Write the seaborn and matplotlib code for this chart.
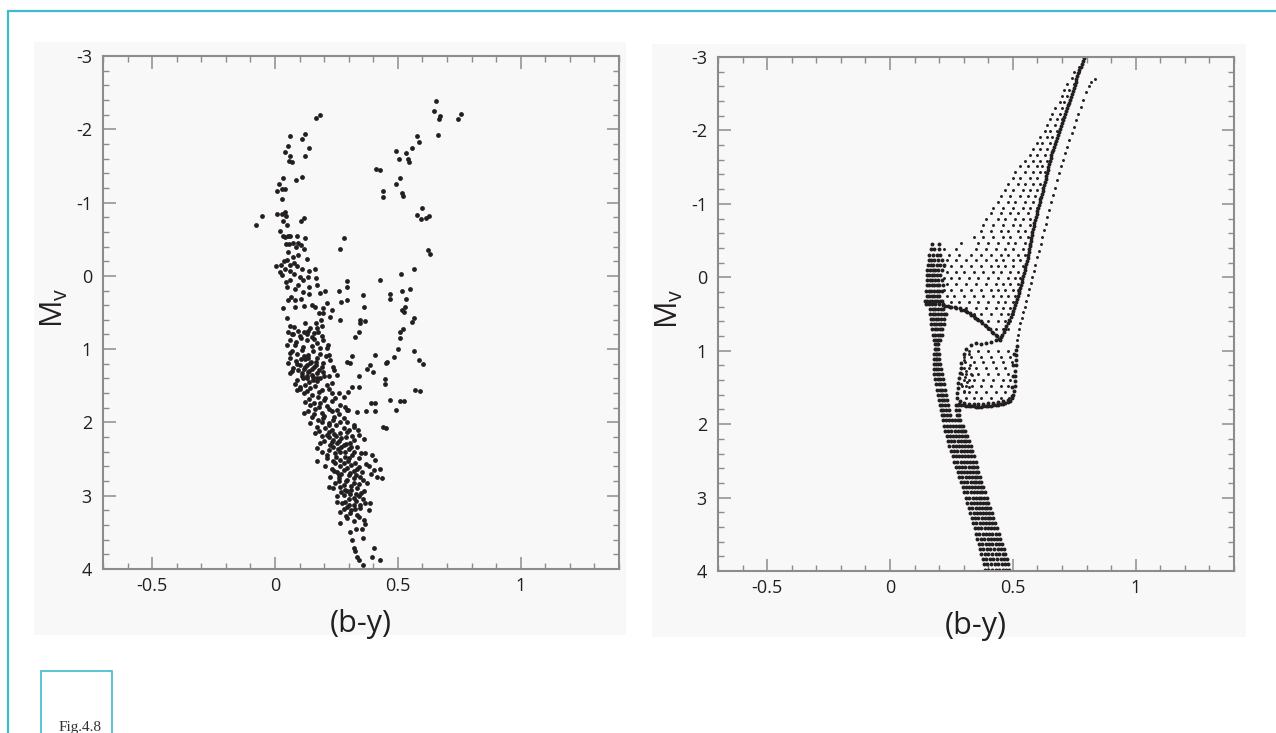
import matplotlib
matplotlib.use("Agg")
import matplotlib.pyplot as plt
import seaborn as sns
import pandas as pd
from matplotlib.patches import Rectangle
from matplotlib.lines import Line2D
from matplotlib.ticker import FixedLocator, FixedFormatter, MultipleLocator

sns.set_style("white")
plt.rcParams["font.family"] = ["Open Sans", "DejaVu Sans"]
plt.rcParams["axes.unicode_minus"] = False

# ---------------- axis ticks ----------------
x_ticks = [-0.5, 0, 0.5, 1]
x_tick_labels = ["-0.5", "0", "0.5", "1"]
y_ticks = [-3, -2, -1, 0, 1, 2, 3, 4]
y_tick_labels = ["-3", "-2", "-1", "0", "1", "2", "3", "4"]
x_label = "(b-y)"
y_label = r"M$_{\mathregular{v}}$"
fig_caption = "Fig.4.8"

# ---------------- left panel: observed stars (b-y, Mv) ----------------
left_giants = [
    (0.656,-2.39),(0.649,-2.25),(0.673,-2.18),(0.668,-2.14),(0.758,-2.21),(0.743,-2.14),(0.665,-1.92),
    (0.578,-1.91),(0.588,-1.82),(0.558,-1.74),(0.535,-1.68),(0.491,-1.70),(0.506,-1.60),(0.541,-1.59),
    (0.544,-1.55),(0.410,-1.46),(0.426,-1.44),(0.510,-1.34),(0.491,-1.26),(0.439,-1.16),(0.441,-1.07),
    (0.516,-1.13),(0.522,-1.09),(0.600,-0.92),(0.578,-0.83),(0.593,-0.77),(0.614,-0.79),(0.627,-0.81),
    (0.624,-0.35),(0.630,-0.30),(0.567,-0.10),(0.514,-0.03),(0.427,0.05),(0.550,0.18),(0.517,0.21),
    (0.467,0.25),(0.467,0.32),(0.533,0.32),(0.524,0.49),(0.517,0.47),(0.531,0.42),(0.565,0.57),
    (0.556,0.63),(0.521,0.72),(0.507,0.76),(0.510,0.85),(0.499,1.00),(0.565,1.02),(0.588,1.15),
    (0.604,1.20),(0.486,1.11),(0.456,1.17),(0.450,1.19),(0.407,1.08),(0.388,1.22),(0.374,1.27),
    (0.399,1.31),(0.340,1.37),(0.306,1.19),(0.293,1.17),(0.312,1.10),(0.446,1.41),(0.448,1.47),
    (0.468,1.69),(0.507,1.71),(0.524,1.71),(0.491,1.83),(0.571,1.56),(0.592,1.57),(0.390,1.74),
    (0.407,1.74),(0.407,1.84),(0.369,1.85),(0.333,1.86),(0.327,0.83),(0.341,0.76),(0.438,2.06),
    (0.450,2.08),(0.340,1.51),(0.313,1.51),(0.299,1.58),(0.279,1.65),(0.286,1.79),(0.299,1.83),
    (0.322,2.03),(0.337,2.10),
]
left_upper = [
    (0.165,-2.15),(0.184,-2.20),(0.061,-1.91),(0.110,-1.87),(0.122,-1.94),(0.054,-1.77),(0.139,-1.75),
    (0.041,-1.69),(0.063,-1.64),(0.124,-1.64),(0.057,-1.57),(0.071,-1.56),(0.034,-1.33),(0.086,-1.31),
    (0.109,-1.35),(0.015,-1.25),(0.030,-1.19),(0.007,-1.16),(0.039,-1.19),(0.027,-1.05),(0.010,-0.85),
    (0.027,-0.84),(0.042,-0.87),(0.044,-0.81),(0.031,-0.75),(0.107,-0.75),(0.116,-0.79),(-0.052,-0.81),
    (-0.076,-0.69),(0.049,-0.69),(0.020,-0.61),(0.031,-0.55),(0.042,-0.53),(0.052,-0.55),(0.063,-0.54),
    (0.088,-0.55),(0.124,-0.52),(0.044,-0.44),(0.056,-0.44),(0.075,-0.45),(0.095,-0.45),(0.106,-0.42),
    (0.086,-0.40),(0.116,-0.36),(0.054,-0.33),(0.095,-0.29),(0.075,-0.26),(0.131,-0.23),(0.048,-0.22),
    (0.035,-0.20),(0.026,-0.15),(0.004,-0.14),(0.061,-0.15),(0.079,-0.17),(0.090,-0.14),(0.042,-0.10),
    (0.109,-0.09),(0.063,-0.06),(0.020,-0.05),(0.030,-0.01),(0.078,-0.03),(0.102,0.01),(0.140,-0.06),
    (0.163,-0.10),(0.136,0.01),(0.165,0.03),(0.045,0.08),(0.063,0.06),(0.113,0.06),(0.095,0.12),
    (0.048,0.15),(0.170,0.12),(0.139,0.15),(0.083,0.18),(0.114,0.22),(0.137,0.25),(0.064,0.29),
    (0.082,0.33),(0.105,0.32),(0.053,0.33),(0.184,0.24),(0.204,0.21),(0.034,0.44),(0.083,0.43),
    (0.116,0.41),(0.151,0.40),(0.163,0.42),(0.195,0.44),(0.211,0.37),(0.233,0.46),(0.178,0.51),
    (0.197,0.51),(0.222,0.56),(0.186,0.60),(0.167,0.65),(0.048,0.57),(0.061,0.68),(0.078,0.70),
    (0.122,0.65),(0.143,0.71),(0.170,0.71),(0.190,0.69),(0.265,0.60),(0.295,0.07),(0.295,0.15),
    (0.279,-0.51),(0.265,-0.37),(0.259,0.21),(0.268,0.35),(0.295,0.33),(0.358,0.26),(0.361,0.42),
    (0.344,0.60),(0.367,0.61),(0.347,0.64),
]
left_sequence = [
    (0.054,0.76),(0.075,0.79),(0.095,0.75),(0.116,0.77),(0.136,0.75),(0.159,0.78),(0.177,0.76),
    (0.061,0.87),(0.086,0.90),(0.105,0.85),(0.129,0.87),(0.150,0.84),(0.170,0.92),(0.195,0.87),
    (0.214,0.94),(0.048,0.94),(0.113,0.97),(0.184,0.99),(0.068,1.02),(0.091,1.06),(0.109,1.01),
    (0.136,1.08),(0.156,1.03),(0.184,1.06),(0.208,1.10),(0.061,1.12),(0.086,1.16),(0.122,1.14),
    (0.143,1.19),(0.167,1.17),(0.197,1.19),(0.224,1.15),(0.102,1.22),(0.054,1.19),(0.075,1.26),
    (0.095,1.28),(0.122,1.25),(0.136,1.31),(0.150,1.27),(0.170,1.33),(0.197,1.31),(0.218,1.37),
    (0.238,1.24),(0.061,1.33),(0.109,1.37),(0.129,1.40),(0.156,1.42),(0.184,1.40),(0.252,1.35),
    (0.082,1.47),(0.102,1.51),(0.122,1.49),(0.143,1.53),(0.163,1.50),(0.190,1.56),(0.211,1.49),
    (0.231,1.60),(0.116,1.60),(0.150,1.62),(0.177,1.65),(0.204,1.67),(0.245,1.67),(0.088,1.56),
    (0.122,1.72),(0.143,1.76),(0.163,1.81),(0.184,1.74),(0.211,1.78),(0.231,1.85),(0.252,1.83),
    (0.136,1.85),(0.190,1.87),(0.116,1.87),(0.265,1.76),(0.293,1.83),(0.150,1.92),(0.177,1.97),
    (0.197,1.94),(0.218,2.01),(0.238,1.97),(0.265,1.99),(0.170,2.06),(0.204,2.08),(0.231,2.10),
    (0.143,2.01),(0.293,1.99),(0.320,2.06),(0.163,2.15),(0.190,2.19),(0.211,2.17),(0.238,2.24),
    (0.265,2.15),(0.293,2.13),(0.313,2.19),(0.340,2.17),(0.361,2.22),(0.184,2.28),(0.224,2.31),
    (0.252,2.28),(0.279,2.31),(0.306,2.28),(0.333,2.33),(0.170,2.35),(0.190,2.40),(0.218,2.38),
    (0.245,2.42),(0.265,2.40),(0.286,2.47),(0.313,2.44),(0.340,2.49),(0.367,2.42),(0.395,2.44),
    (0.211,2.49),(0.238,2.53),(0.265,2.51),(0.299,2.53),(0.327,2.56),(0.170,2.53),(0.408,2.51),
    (0.204,2.60),(0.231,2.63),(0.252,2.67),(0.279,2.65),(0.306,2.69),(0.333,2.63),(0.354,2.67),
    (0.381,2.60),(0.401,2.65),(0.429,2.64),(0.224,2.74),(0.259,2.76),(0.293,2.78),(0.320,2.76),
    (0.347,2.74),(0.415,2.74),(0.435,2.76),(0.245,2.83),(0.218,2.88),(0.238,2.90),(0.265,2.88),
    (0.286,2.92),(0.306,2.97),(0.333,2.90),(0.361,2.94),(0.374,2.83),(0.252,3.01),(0.279,2.99),
    (0.320,3.03),(0.340,3.01),(0.252,3.08),(0.272,3.10),(0.293,3.15),(0.320,3.13),(0.347,3.17),
    (0.367,3.10),(0.388,3.10),(0.265,3.22),(0.306,3.24),(0.333,3.26),(0.361,3.33),(0.381,3.19),
    (0.367,3.38),(0.263,3.37),(0.293,3.31),(0.306,3.49),(0.331,3.46),(0.354,3.46),(0.313,3.60),
    (0.358,3.58),(0.320,3.72),(0.327,3.76),(0.333,3.83),(0.340,3.88),(0.401,3.72),(0.395,3.83),
    (0.429,3.88),(0.358,3.94),
    (0.07,0.80),(0.10,0.82),(0.13,0.80),(0.16,0.86),(0.19,0.82),(0.08,0.95),(0.15,0.96),(0.21,0.99),
    (0.06,1.05),(0.12,1.09),(0.17,1.12),(0.22,1.08),(0.09,1.20),(0.13,1.22),(0.19,1.24),(0.24,1.28),
    (0.07,1.30),(0.11,1.32),(0.15,1.35),(0.20,1.36),(0.09,1.42),(0.14,1.45),(0.17,1.44),(0.23,1.46),
    (0.10,1.55),(0.13,1.57),(0.18,1.58),(0.22,1.54),(0.26,1.60),(0.14,1.68),(0.20,1.69),(0.23,1.71),
    (0.16,1.73),(0.18,1.79),(0.22,1.82),(0.26,1.88),(0.16,1.88),(0.20,1.91),(0.24,1.93),(0.28,1.94),
    (0.19,2.00),(0.22,2.04),(0.25,2.03),(0.28,2.07),(0.30,2.10),(0.18,2.12),(0.22,2.13),(0.25,2.18),
    (0.27,2.21),(0.32,2.24),(0.20,2.25),(0.23,2.27),(0.27,2.34),(0.30,2.36),(0.32,2.40),(0.35,2.42),
    (0.21,2.45),(0.25,2.47),(0.28,2.55),(0.31,2.58),(0.34,2.61),(0.37,2.57),(0.24,2.66),(0.27,2.70),
    (0.30,2.72),(0.33,2.72),(0.36,2.79),(0.39,2.70),(0.26,2.80),(0.28,2.85),(0.31,2.87),(0.34,2.84),
    (0.35,2.96),(0.27,2.95),(0.30,3.04),(0.33,3.07),(0.36,3.05),(0.28,3.18),(0.31,3.20),(0.34,3.29),
    (0.32,3.35),(0.29,3.28),
    (0.12,1.27),(0.14,1.30),(0.16,1.25),(0.18,1.29),(0.13,1.36),(0.155,1.38),(0.115,1.40),(0.17,1.39),
    (0.145,1.18),(0.165,1.21),(0.105,1.13),(0.135,1.12),(0.22,2.20),(0.24,2.16),(0.26,2.25),(0.29,2.20),
    (0.235,2.34),(0.255,2.36),(0.285,2.40),(0.31,2.33),(0.245,2.56),(0.265,2.60),(0.295,2.62),(0.32,2.66),
    (0.29,2.80),(0.31,2.92),(0.32,2.82),(0.33,2.98),(0.295,2.94),(0.30,3.13),(0.325,3.18),(0.285,3.08),
    (0.345,3.12),(0.29,2.30),(0.30,2.48),(0.26,2.72),
]

# ---------------- right panel: synthetic population (rows: Mv, list of b-y) ----------------
ms_rows = [
    (3.98,[0.388,0.40,0.415,0.43,0.445,0.46,0.474,0.486]),
    (3.91,[0.383,0.396,0.41,0.426,0.44,0.455,0.469,0.481]),
    (3.84,[0.378,0.391,0.405,0.42,0.436,0.45,0.464,0.476]),
    (3.77,[0.372,0.385,0.40,0.414,0.43,0.444,0.458,0.47]),
    (3.70,[0.366,0.38,0.394,0.409,0.424,0.438,0.451,0.463]),
    (3.63,[0.361,0.374,0.389,0.403,0.417,0.431,0.444,0.456]),
    (3.56,[0.355,0.369,0.383,0.397,0.41,0.424,0.437,0.449]),
    (3.49,[0.35,0.363,0.377,0.39,0.404,0.417,0.43,0.442]),
    (3.42,[0.344,0.357,0.371,0.385,0.398,0.41,0.423,0.435]),
    (3.35,[0.338,0.351,0.365,0.379,0.392,0.404,0.416,0.428]),
    (3.28,[0.333,0.346,0.36,0.373,0.386,0.398,0.409,0.421]),
    (3.21,[0.327,0.34,0.354,0.367,0.379,0.391,0.402,0.414]),
    (3.14,[0.321,0.334,0.348,0.361,0.373,0.385,0.396,0.407]),
    (3.07,[0.315,0.328,0.342,0.355,0.367,0.379,0.389,0.40]),
    (3.00,[0.309,0.322,0.336,0.349,0.361,0.372,0.383,0.393]),
    (2.93,[0.302,0.315,0.329,0.342,0.354,0.365,0.376,0.386]),
    (2.86,[0.296,0.309,0.322,0.335,0.347,0.358,0.369,0.379]),
    (2.79,[0.289,0.302,0.315,0.328,0.34,0.352,0.362,0.372]),
    (2.72,[0.282,0.295,0.308,0.321,0.333,0.345,0.356,0.366]),
    (2.65,[0.275,0.288,0.301,0.314,0.326,0.338,0.349,0.36]),
    (2.58,[0.268,0.281,0.294,0.307,0.32,0.332,0.343,0.354]),
    (2.51,[0.261,0.274,0.288,0.301,0.313,0.325,0.337,0.348]),
    (2.44,[0.255,0.268,0.281,0.294,0.307,0.319,0.331,0.341]),
    (2.37,[0.248,0.261,0.274,0.288,0.30,0.313,0.324,0.334]),
    (2.30,[0.242,0.255,0.268,0.281,0.294,0.306,0.317,0.328]),
    (2.23,[0.236,0.249,0.262,0.275,0.288,0.30,0.311,0.321]),
    (2.16,[0.23,0.243,0.256,0.269,0.282,0.294,0.304,0.314]),
    (2.09,[0.225,0.238,0.25,0.263,0.276,0.287,0.297,0.306]),
    (2.02,[0.22,0.232,0.245,0.258,0.27,0.281,0.29,0.298]),
    (1.95,[0.215,0.227,0.24,0.253,0.265,0.276,0.286]),
    (1.88,[0.21,0.221,0.233,0.245,0.271,0.282]),
    (1.81,[0.206,0.217,0.228,0.239,0.269,0.28]),
    (1.74,[0.202,0.213,0.224,0.235,0.267,0.278]),
    (1.67,[0.199,0.21,0.221,0.232]),
    (1.60,[0.195,0.206,0.217,0.228]),
    (1.53,[0.191,0.202,0.213,0.224]),
    (1.46,[0.188,0.199,0.209,0.22]),
    (1.39,[0.185,0.195,0.205,0.216]),
    (1.32,[0.181,0.191,0.201,0.211]),
    (1.25,[0.179,0.188,0.197,0.206]),
    (1.18,[0.178,0.186,0.194,0.202]),
    (1.11,[0.179,0.186,0.193,0.20]),
    (1.04,[0.18,0.186,0.192,0.198]),
    (0.97,[0.182,0.188,0.194]),
    (0.91,[0.183,0.19,0.197]),
]
turnoff_rows = [
    (0.85,[0.18,0.188,0.196,0.204]),
    (0.78,[0.176,0.185,0.194,0.203,0.211]),
    (0.71,[0.172,0.182,0.192,0.202,0.212]),
    (0.64,[0.168,0.178,0.188,0.198,0.208,0.218]),
    (0.57,[0.165,0.175,0.186,0.197,0.208,0.219]),
    (0.50,[0.163,0.174,0.185,0.196,0.207,0.218,0.226]),
    (0.43,[0.162,0.173,0.184,0.195,0.206,0.217]),
    (0.37,[0.148,0.158,0.17,0.185,0.20,0.215]),
    (0.32,[0.142,0.152,0.162,0.172,0.182,0.192,0.202,0.212]),
    (0.25,[0.15,0.16,0.17,0.18,0.19,0.20]),
    (0.18,[0.148,0.158,0.168,0.178,0.19,0.20,0.21]),
    (0.11,[0.15,0.16,0.17,0.18,0.19,0.20,0.215]),
    (0.04,[0.152,0.162,0.172,0.182,0.195,0.21]),
    (-0.03,[0.15,0.16,0.17,0.18,0.19,0.205]),
    (-0.10,[0.152,0.163,0.174,0.185,0.196,0.21]),
    (-0.17,[0.155,0.166,0.177,0.19,0.205,0.22]),
    (-0.24,[0.157,0.168,0.18,0.195,0.21]),
    (-0.31,[0.16,0.175,0.19,0.205]),
    (-0.38,[0.165,0.18,0.20]),
    (-0.45,[0.17,0.20]),
]
hook_curve = [
    (0.216,0.38),(0.225,0.395),(0.235,0.39),(0.245,0.405),(0.25,0.40),(0.265,0.41),(0.27,0.425),
    (0.285,0.42),(0.29,0.44),(0.30,0.44),(0.31,0.46),(0.315,0.47),(0.325,0.49),(0.33,0.51),(0.34,0.53),
    (0.345,0.55),(0.355,0.57),(0.36,0.58),(0.37,0.60),(0.375,0.62),(0.385,0.65),(0.39,0.67),(0.40,0.69),
    (0.405,0.71),(0.415,0.74),(0.42,0.76),(0.43,0.78),(0.435,0.80),(0.445,0.84),
]
giant_rows = [
    (0.70,[0.40,0.43,0.46,0.48]),
    (0.60,[0.37,0.40,0.44,0.47,0.49]),
    (0.50,[0.34,0.37,0.41,0.45,0.48,0.50]),
    (0.42,[0.31,0.35,0.39,0.43,0.46,0.49]),
    (0.33,[0.25,0.28,0.32,0.36,0.40,0.44,0.47,0.50]),
    (0.25,[0.23,0.26,0.30,0.34,0.38,0.42,0.45,0.48,0.51]),
    (0.17,[0.22,0.25,0.29,0.33,0.37,0.41,0.44,0.47,0.50,0.52]),
    (0.09,[0.23,0.27,0.31,0.35,0.39,0.43,0.46,0.49,0.52]),
    (0.01,[0.22,0.25,0.28,0.32,0.36,0.40,0.44,0.48,0.51,0.53]),
    (-0.07,[0.23,0.27,0.30,0.34,0.38,0.42,0.45,0.49,0.52]),
    (-0.15,[0.22,0.25,0.29,0.33,0.37,0.41,0.44,0.47,0.50,0.54]),
    (-0.23,[0.23,0.27,0.31,0.35,0.39,0.43,0.46,0.50,0.53]),
    (-0.31,[0.20,0.24,0.28,0.33,0.37,0.41,0.45,0.48,0.52,0.55]),
    (-0.39,[0.18,0.22,0.27,0.35,0.39,0.43,0.47,0.50,0.54]),
    (-0.47,[0.29,0.36,0.40,0.44,0.48,0.51,0.55]),
    (-0.55,[0.34,0.38,0.42,0.46,0.49,0.53,0.56]),
    (-0.63,[0.37,0.41,0.45,0.48,0.52,0.55]),
    (-0.71,[0.38,0.42,0.46,0.50,0.53,0.57]),
    (-0.79,[0.39,0.44,0.47,0.51,0.54,0.57]),
    (-0.87,[0.41,0.45,0.49,0.52,0.56]),
    (-0.95,[0.42,0.46,0.50,0.54,0.57,0.60]),
    (-1.03,[0.44,0.48,0.51,0.55,0.58]),
    (-1.11,[0.45,0.49,0.53,0.56,0.59]),
    (-1.19,[0.47,0.50,0.54,0.57,0.60]),
    (-1.27,[0.48,0.52,0.55,0.58,0.61]),
    (-1.35,[0.50,0.53,0.57,0.60]),
    (-1.43,[0.51,0.55,0.58,0.61,0.63]),
    (-1.51,[0.53,0.56,0.60,0.62]),
    (-1.59,[0.55,0.58,0.61,0.64]),
    (-1.67,[0.57,0.60,0.63]),
    (-1.75,[0.58,0.61,0.64]),
    (-1.83,[0.60,0.62,0.65,0.67]),
    (-1.91,[0.61,0.64,0.66]),
    (-1.99,[0.63,0.65,0.68]),
    (-2.07,[0.64,0.67]),
    (-2.15,[0.65,0.68,0.70]),
    (-2.23,[0.66,0.69]),
    (-2.31,[0.67,0.70]),
    (-2.39,[0.69,0.71]),
    (-2.47,[0.70,0.72]),
    (-2.55,[0.71,0.73]),
    (-2.63,[0.72,0.75]),
    (-2.71,[0.74]),
    (-2.79,[0.75,0.77]),
    (-2.87,[0.77]),
]
rgb_line = [
    (0.448,0.86),(0.452,0.82),(0.457,0.78),(0.462,0.74),(0.468,0.70),(0.474,0.66),(0.48,0.62),(0.486,0.58),
    (0.492,0.54),(0.497,0.50),(0.502,0.46),(0.506,0.42),(0.51,0.38),(0.514,0.34),(0.518,0.30),(0.521,0.26),
    (0.524,0.22),(0.527,0.18),(0.53,0.14),(0.533,0.10),(0.536,0.06),(0.539,0.02),(0.542,-0.02),(0.545,-0.06),
    (0.548,-0.10),(0.551,-0.14),(0.554,-0.18),(0.557,-0.22),(0.56,-0.26),(0.563,-0.30),(0.565,-0.34),
    (0.567,-0.38),(0.569,-0.42),(0.571,-0.46),(0.573,-0.50),(0.575,-0.54),(0.577,-0.58),(0.579,-0.62),
    (0.582,-0.66),(0.585,-0.70),(0.588,-0.74),(0.591,-0.78),(0.594,-0.82),(0.597,-0.86),(0.60,-0.90),
    (0.603,-0.94),(0.606,-0.98),(0.609,-1.02),(0.612,-1.06),(0.615,-1.10),(0.618,-1.14),(0.621,-1.18),
    (0.624,-1.22),(0.627,-1.26),(0.63,-1.30),(0.633,-1.34),(0.636,-1.38),(0.639,-1.42),(0.642,-1.46),
    (0.645,-1.50),(0.648,-1.54),(0.651,-1.58),(0.654,-1.62),(0.657,-1.66),(0.66,-1.70),(0.663,-1.74),
    (0.667,-1.78),(0.671,-1.82),(0.675,-1.86),(0.679,-1.90),(0.683,-1.94),(0.687,-1.98),(0.691,-2.02),
    (0.695,-2.06),(0.699,-2.10),(0.703,-2.14),(0.707,-2.18),(0.711,-2.22),(0.715,-2.26),(0.719,-2.30),
    (0.723,-2.34),(0.727,-2.38),(0.731,-2.42),(0.735,-2.46),(0.739,-2.50),(0.743,-2.54),(0.747,-2.58),
    (0.751,-2.62),(0.755,-2.66),(0.759,-2.70),(0.763,-2.74),(0.767,-2.78),(0.771,-2.82),(0.776,-2.86),
    (0.781,-2.90),(0.786,-2.94),(0.791,-2.98),
]
agb_line = [
    (0.517,0.86),(0.52,0.78),(0.525,0.70),(0.53,0.62),(0.536,0.55),(0.542,0.47),(0.548,0.40),(0.555,0.32),
    (0.56,0.24),(0.566,0.16),(0.572,0.08),(0.578,0.0),(0.585,-0.08),(0.592,-0.17),(0.60,-0.27),(0.607,-0.36),
    (0.614,-0.45),(0.62,-0.55),(0.627,-0.64),(0.633,-0.73),(0.64,-0.82),(0.648,-0.92),(0.656,-1.02),
    (0.665,-1.12),(0.673,-1.22),(0.681,-1.32),(0.689,-1.42),(0.697,-1.51),(0.705,-1.60),(0.714,-1.69),
    (0.722,-1.78),(0.73,-1.87),(0.74,-1.96),(0.748,-2.05),(0.757,-2.14),(0.766,-2.23),(0.776,-2.32),
    (0.786,-2.42),(0.796,-2.52),(0.808,-2.60),(0.82,-2.66),(0.835,-2.70),
]
loop_edges = [
    (0.28,1.72),(0.29,1.74),(0.30,1.745),(0.31,1.75),(0.32,1.75),(0.33,1.755),(0.34,1.755),(0.35,1.76),
    (0.36,1.76),(0.37,1.76),(0.38,1.755),(0.39,1.755),(0.40,1.75),(0.41,1.75),(0.42,1.745),(0.43,1.74),
    (0.44,1.735),(0.45,1.73),(0.46,1.72),(0.47,1.71),(0.48,1.70),(0.49,1.68),(0.497,1.65),(0.502,1.60),
    (0.285,1.69),(0.30,1.71),(0.32,1.72),(0.34,1.72),(0.36,1.725),(0.38,1.72),(0.40,1.715),(0.42,1.71),
    (0.44,1.70),(0.46,1.69),(0.48,1.67),(0.495,1.62),
    (0.505,1.55),(0.507,1.48),(0.508,1.41),(0.509,1.34),(0.51,1.27),(0.511,1.20),(0.512,1.13),(0.513,1.06),
    (0.514,0.99),(0.515,0.93),(0.498,1.50),(0.50,1.35),(0.502,1.20),(0.503,1.05),
    (0.272,1.65),(0.274,1.58),(0.276,1.51),(0.278,1.44),(0.28,1.37),(0.283,1.30),(0.287,1.23),(0.29,1.17),
    (0.30,1.05),(0.31,0.97),(0.33,0.92),(0.35,0.90),(0.37,0.91),(0.39,0.90),(0.41,0.88),(0.43,0.86),
]
loop_rows = [
    (1.00,[0.32,0.36,0.40,0.44,0.48]),
    (1.08,[0.30,0.33,0.37,0.41,0.45,0.49]),
    (1.16,[0.305,0.34,0.38,0.42,0.46,0.495]),
    (1.24,[0.30,0.32,0.35,0.39,0.43,0.47]),
    (1.32,[0.295,0.31,0.33,0.36,0.40,0.44,0.48]),
    (1.40,[0.30,0.32,0.34,0.38,0.42,0.46,0.49]),
    (1.48,[0.295,0.31,0.335,0.37,0.41,0.45,0.48]),
    (1.56,[0.30,0.32,0.35,0.39,0.43,0.47]),
    (1.64,[0.31,0.34,0.37,0.41,0.45,0.485]),
]
loop_extra = [
    (0.29,1.30),(0.305,1.36),(0.315,1.42),(0.29,1.45),(0.31,1.28),(0.325,1.20),(0.30,1.12),(0.32,1.05),
    (0.335,1.33),(0.32,1.50),(0.30,1.55),
]

def expand(rows):
    pts = []
    for mv, colors in rows:
        for c in colors:
            pts.append((c, mv))
    return pts

def frame(points):
    return pd.DataFrame(points, columns=["by", "Mv"])

left_df = frame(left_giants + left_upper + left_sequence)
right_dense = frame(expand(ms_rows) + expand(turnoff_rows) + hook_curve + rgb_line + loop_edges)
right_sparse = frame(expand(giant_rows) + agb_line + expand(loop_rows) + loop_extra)

# ---------------- figure ----------------
W, H = 1276, 733
fig = plt.figure(figsize=(W / 100, H / 100), dpi=100)
fig.patch.set_facecolor("white")

def fx(px):
    return px / W

def fy(py):
    return 1 - py / H

panel_col = "#f8f8f8"
teal = "#3cbccb"
fig.add_artist(Rectangle((fx(34), fy(635)), fx(626 - 34), (635 - 42) / H,
                         transform=fig.transFigure, facecolor=panel_col, edgecolor="none", zorder=-10))
fig.add_artist(Rectangle((fx(652), fy(637)), fx(1246 - 652), (637 - 44) / H,
                         transform=fig.transFigure, facecolor=panel_col, edgecolor="none", zorder=-10))
fig.add_artist(Line2D([fx(8), fx(8)], [0, fy(11)], transform=fig.transFigure, color=teal, lw=1.6))
fig.add_artist(Line2D([fx(8), 1], [fy(11), fy(11)], transform=fig.transFigure, color=teal, lw=1.6))
fig.add_artist(Rectangle((fx(41), -0.02), fx(112 - 41), fy(671) + 0.02,
                         transform=fig.transFigure, facecolor="none", edgecolor=teal, lw=1.2))
fig.text(fx(80), fy(731), fig_caption, family=["Liberation Serif", "DejaVu Serif"], fontsize=11,
         color="#333333", ha="center", va="baseline")

ax1 = fig.add_axes([fx(103), fy(569), fx(516), 513 / H])
ax2 = fig.add_axes([fx(718), fy(571), fx(516), 514 / H])

pt_col = "#231f20"
sns.scatterplot(data=left_df, x="by", y="Mv", ax=ax1, s=12, color=pt_col, linewidth=0, legend=False)
sns.scatterplot(data=right_dense, x="by", y="Mv", ax=ax2, s=8, color=pt_col, linewidth=0, legend=False)
sns.scatterplot(data=right_sparse, x="by", y="Mv", ax=ax2, s=4.5, color=pt_col, linewidth=0, legend=False)

spine_col = "#8c8c8c"
for ax in (ax1, ax2):
    ax.set_facecolor("none")
    ax.patch.set_alpha(0)
    ax.set_xlim(-0.7, 1.4)
    ax.set_ylim(4, -3)
    ax.xaxis.set_major_locator(FixedLocator(x_ticks))
    ax.xaxis.set_major_formatter(FixedFormatter(x_tick_labels))
    ax.xaxis.set_minor_locator(MultipleLocator(0.1))
    ax.yaxis.set_major_locator(FixedLocator(y_ticks))
    ax.yaxis.set_major_formatter(FixedFormatter(y_tick_labels))
    ax.yaxis.set_minor_locator(MultipleLocator(0.2))
    ax.tick_params(which="both", direction="in", top=True, right=True, bottom=True, left=True,
                   color=spine_col, labelcolor="#231f20", labelsize=13)
    ax.tick_params(which="major", length=9, width=1.1)
    ax.tick_params(which="minor", length=4.5, width=1.0)
    ax.tick_params(axis="x", which="major", pad=6)
    ax.tick_params(axis="y", which="major", pad=8)
    for sp in ax.spines.values():
        sp.set_visible(True)
        sp.set_color(spine_col)
        sp.set_linewidth(1.5)
    ax.set_xlabel("")
    ax.set_ylabel("")
    ax.text(0.5, -55 / 513, x_label, transform=ax.transAxes, ha="center", va="center",
            fontsize=22, color="#231f20")
    ax.text(-0.095, 0.51, y_label, transform=ax.transAxes, ha="center", va="center",
            rotation=90, fontsize=22, color="#231f20")

fig.savefig("out.png", dpi=100)
